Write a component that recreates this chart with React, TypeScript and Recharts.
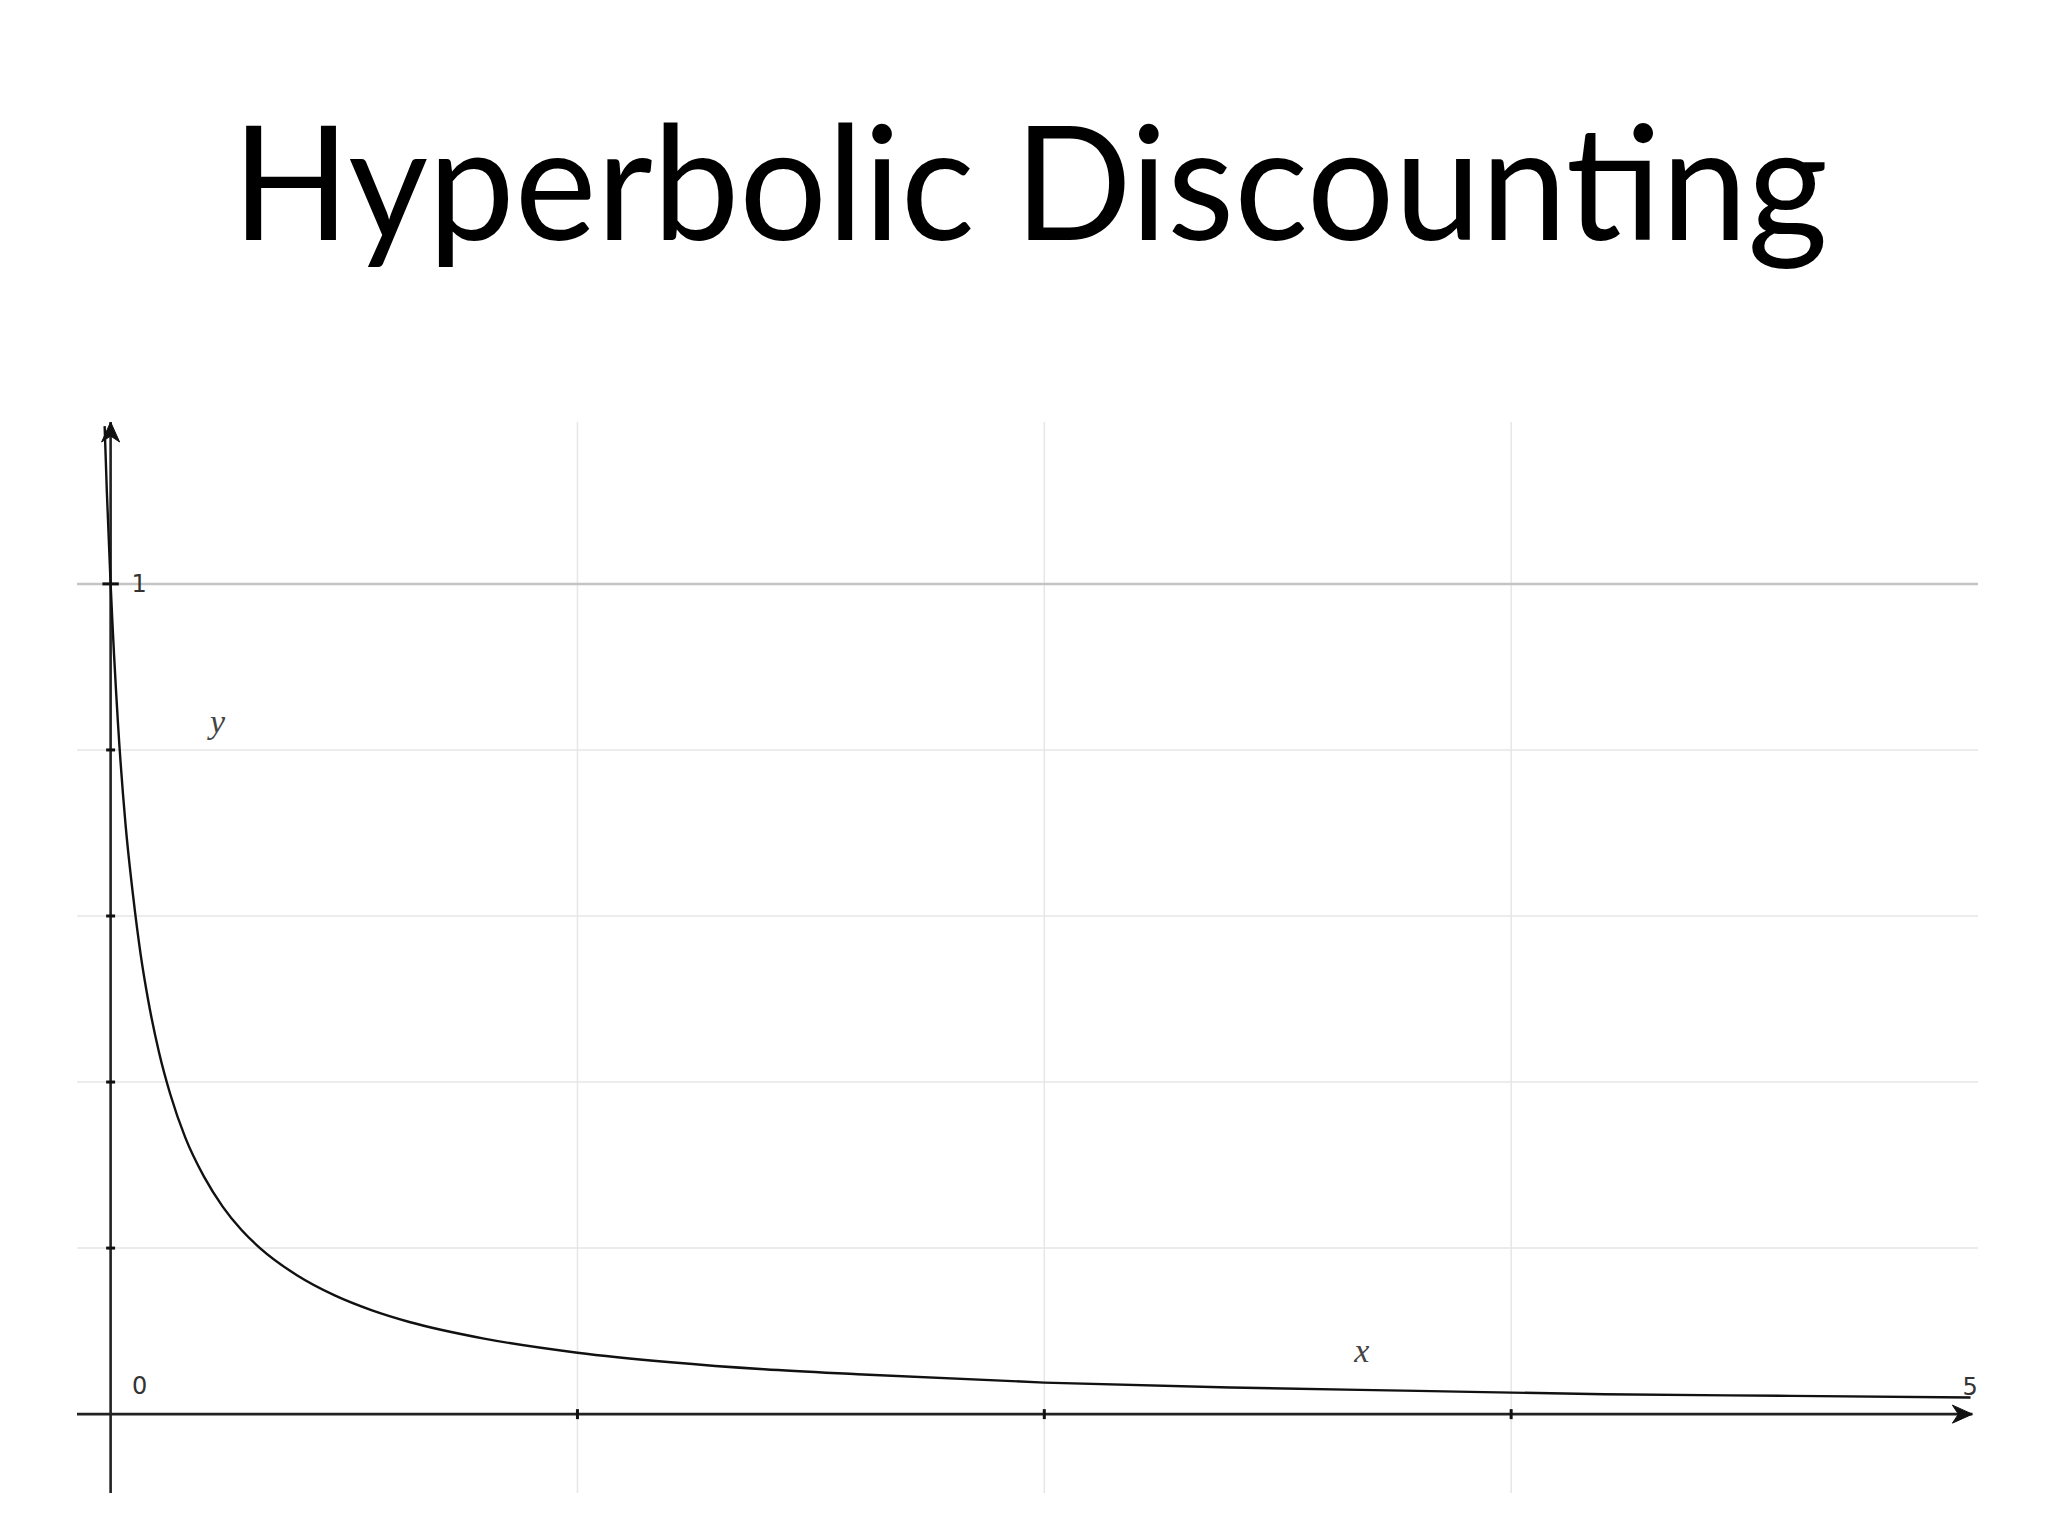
import React from 'react';
import {
  LineChart,
  Line,
  XAxis,
  YAxis,
  ReferenceLine,
  ReferenceDot
} from 'recharts';

// curve points
const xs = [-0.016, -0.01, 0, 0.02, 0.04, 0.06, 0.08, 0.1, 0.13, 0.16, 0.2, 0.25, 0.3, 0.35, 0.4, 0.5, 0.6, 0.7, 0.8, 1.0, 1.25, 1.5, 1.75, 2.0, 2.5, 3.0, 3.5, 4.0, 4.5, 4.98];
const ys = [1.19, 1.11, 1.0, 0.83, 0.71, 0.625, 0.555, 0.5, 0.435, 0.385, 0.333, 0.286, 0.25, 0.222, 0.2, 0.167, 0.143, 0.125, 0.111, 0.091, 0.074, 0.0625, 0.054, 0.048, 0.038, 0.032, 0.028, 0.024, 0.022, 0.02];

const xGrid = [1.25, 2.5, 3.75];
const yGrid = [0.2, 0.4, 0.6, 0.8];
const yMajor = 1;

const xDomain = [-0.09, 5];
const yDomain = [-0.095, 1.195];
const xAxisEnd = 4.985;

const data = xs.map((x, i) => ({ x, y: ys[i] }));

const W = 2048;
const H = 1536;

function ArrowLine(props: any) {
  const { x1, y1, x2, y2 } = props;
  const vertical = Math.abs(x1 - x2) < 1;
  let head;
  if (vertical) {
    const tip = Math.min(y1, y2);
    const x = x1;
    head = `M${x},${tip} L${x - 9},${tip + 20} L${x},${tip + 14} L${x + 9},${tip + 20} Z`;
  } else {
    const tip = Math.max(x1, x2);
    const y = y1;
    head = `M${tip},${y} L${tip - 20},${y - 9} L${tip - 14},${y} L${tip - 20},${y + 9} Z`;
  }
  return (
    <g>
      <line x1={x1} y1={y1} x2={x2} y2={y2} stroke="#222" strokeWidth={2.6} />
      <path d={head} fill="#111" stroke="#111" strokeWidth={1} />
    </g>
  );
}

function Tick(props: any) {
  const { x1, y1, x2, y2 } = props;
  return <line x1={x1} y1={y1} x2={x2} y2={y2} stroke="#111" strokeWidth={3} />;
}

const tickFont = { fontFamily: '"DejaVu Sans", sans-serif', fontSize: 24, fill: '#333' };
const varFont = { fontFamily: '"Liberation Serif", serif', fontStyle: 'italic', fontSize: 34, fill: '#444' };

export default function App() {
  return (
    <div style={{ position: 'absolute', left: 0, top: 0, width: W, height: H, background: '#fff' }}>
      <svg width={W} height={300} style={{ position: 'absolute', left: 0, top: 0 }}>
        <text
          x={1030}
          y={240}
          textAnchor="middle"
          textLength={1596}
          lengthAdjust="spacingAndGlyphs"
          style={{ fontFamily: 'Lato, sans-serif', fontSize: 160, fill: '#000' }}
        >
          Hyperbolic Discounting
        </text>
      </svg>
      <div style={{ position: 'absolute', left: 0, top: 0 }}>
        <LineChart width={W} height={H} data={data} margin={{ top: 422, right: 70, bottom: 43, left: 77 }}>
          <XAxis type="number" dataKey="x" domain={xDomain} allowDataOverflow hide />
          <YAxis type="number" domain={yDomain} allowDataOverflow hide />

          {yGrid.map((v) => (
            <ReferenceLine key={'hy' + v} y={v} stroke="#e6e6e6" strokeWidth={1.5} />
          ))}
          {xGrid.map((v) => (
            <ReferenceLine key={'vx' + v} x={v} stroke="#e6e6e6" strokeWidth={1.5} />
          ))}
          <ReferenceLine y={yMajor} stroke="#c4c4c4" strokeWidth={2.5} />

          <ReferenceLine
            segment={[{ x: xDomain[0], y: 0 }, { x: xAxisEnd, y: 0 }]}
            shape={ArrowLine}
          />
          <ReferenceLine
            segment={[{ x: 0, y: yDomain[0] }, { x: 0, y: yDomain[1] }]}
            shape={ArrowLine}
          />

          {[...yGrid, yMajor].map((v) => (
            <ReferenceLine
              key={'ty' + v}
              segment={[{ x: v === yMajor ? -0.022 : -0.012, y: v }, { x: v === yMajor ? 0.022 : 0.012, y: v }]}
              shape={Tick}
            />
          ))}
          {xGrid.map((v) => (
            <ReferenceLine
              key={'tx' + v}
              segment={[{ x: v, y: -0.006 }, { x: v, y: 0.006 }]}
              shape={Tick}
            />
          ))}

          <Line
            type="monotone"
            dataKey="y"
            stroke="#111"
            strokeWidth={2.4}
            dot={false}
            isAnimationActive={false}
          />

          <ReferenceDot x={0} y={1} r={1} fill="none" stroke="none"
            label={{ value: '1', position: 'right', offset: 20, style: tickFont }} />
          <ReferenceDot x={0.078} y={0.034} r={1} fill="none" stroke="none"
            label={{ value: '0', position: 'center', style: tickFont }} />
          <ReferenceDot x={4.979} y={0.033} r={1} fill="none" stroke="none"
            label={{ value: '5', position: 'center', style: tickFont }} />
          <ReferenceDot x={0.286} y={0.835} r={1} fill="none" stroke="none"
            label={{ value: 'y', position: 'center', style: varFont }} />
          <ReferenceDot x={3.35} y={0.077} r={1} fill="none" stroke="none"
            label={{ value: 'x', position: 'center', style: varFont }} />
        </LineChart>
      </div>
    </div>
  );
}
